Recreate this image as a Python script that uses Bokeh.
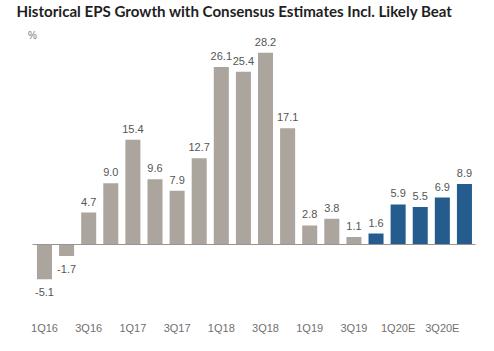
from bokeh.plotting import figure
from bokeh.models import ColumnDataSource, FixedTicker, Range1d, Label
from bokeh.core.properties import value
from bokeh.embed import file_html
from bokeh.resources import INLINE

# ---- data ----
quarters = ["1Q16", "2Q16", "3Q16", "4Q16", "1Q17", "2Q17", "3Q17", "4Q17",
            "1Q18", "2Q18", "3Q18", "4Q18", "1Q19", "2Q19", "3Q19", "4Q19",
            "1Q20E", "2Q20E", "3Q20E", "4Q20E"]
eps_growth = [-5.1, -1.7, 4.7, 9.0, 15.4, 9.6, 7.9, 12.7,
              26.1, 25.4, 28.2, 17.1, 2.8, 3.8, 1.1, 1.6,
              5.9, 5.5, 6.9, 8.9]
series = ["Historical"] * 15 + ["Estimate"] * 5
tick_labels = ["1Q16", "3Q16", "1Q17", "3Q17", "1Q18", "3Q18", "1Q19", "3Q19", "1Q20E", "3Q20E"]
title_text = "Historical EPS Growth with Consensus Estimates Incl. Likely Beat"
unit_text = "%"

GRAY = "#aca59e"
BLUE = "#255c8e"
colors = {"Historical": GRAY, "Estimate": BLUE}

xs = list(range(len(quarters)))
src = ColumnDataSource(dict(
    x=xs,
    eps=eps_growth,
    color=[colors[s] for s in series],
    label=[f"{v:.1f}" for v in eps_growth],
    yoff=[-11 if v >= 0 else 13 for v in eps_growth],
))

p = figure(width=494, height=351, output_backend="svg", toolbar_location=None,
           x_range=Range1d(-1.99, 20.36), y_range=Range1d(-8.235, 35.88),
           min_border_left=0, min_border_right=0, min_border_top=0, min_border_bottom=51,
           outline_line_color=None, background_fill_color="white", border_fill_color="white")

p.vbar(x="x", top="eps", bottom=0, width=0.68, fill_color="color", line_color=None, source=src)
# baseline (zero line)
p.segment(x0=-0.543, x1=19.5, y0=0, y1=0, line_color="#9a948f", line_width=1)

p.text(x="x", y="eps", text="label", y_offset="yoff", source=src,
       text_align="center", text_baseline="middle",
       text_font=value("Liberation Sans"), text_font_size="11px", text_color="#555555")

# title and unit marker, placed in the top strip of the plot area
p.add_layout(Label(x=-1.267, y=34.3, text=title_text, text_font="Lato",
                   text_font_style="bold", text_font_size="15.1px", text_color="#1f1f1f",
                   text_align="left", text_baseline="middle"))
p.add_layout(Label(x=-0.55, y=30.8, text=unit_text, text_font="Liberation Sans",
                   text_font_size="10px", text_color="#777777",
                   text_align="center", text_baseline="middle"))

p.yaxis.visible = False
p.grid.visible = False
ax = p.xaxis[0]
tick_pos = [quarters.index(t) for t in tick_labels]
ax.ticker = FixedTicker(ticks=tick_pos)
ax.major_label_overrides = {i: t for i, t in zip(tick_pos, tick_labels)}
ax.axis_line_color = None
ax.major_tick_line_color = None
ax.minor_tick_line_color = None
ax.major_label_standoff = 15
ax.major_label_text_font = "Liberation Sans"
ax.major_label_text_font_size = "11px"
ax.major_label_text_color = "#707070"

open("out.html", "w").write(file_html(p, INLINE))
